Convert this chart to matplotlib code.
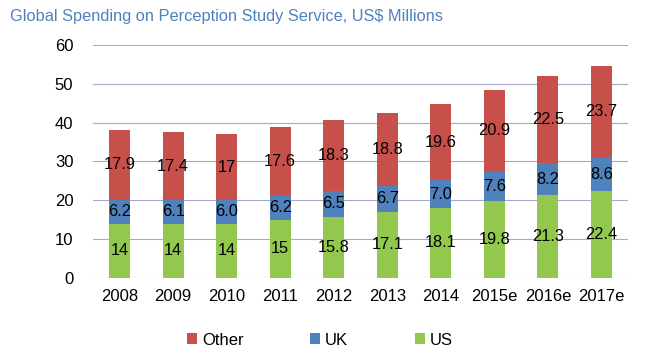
import matplotlib
matplotlib.use("Agg")
import matplotlib.pyplot as plt
import numpy as np

years = ["2008", "2009", "2010", "2011", "2012", "2013", "2014", "2015e", "2016e", "2017e"]
us = [14, 14, 14, 15, 15.8, 17.1, 18.1, 19.8, 21.3, 22.4]
uk = [6.2, 6.1, 6.0, 6.2, 6.5, 6.7, 7.0, 7.6, 8.2, 8.6]
other = [17.9, 17.4, 17, 17.6, 18.3, 18.8, 19.6, 20.9, 22.5, 23.7]
us_labels = ["14", "14", "14", "15", "15.8", "17.1", "18.1", "19.8", "21.3", "22.4"]
uk_labels = ["6.2", "6.1", "6.0", "6.2", "6.5", "6.7", "7.0", "7.6", "8.2", "8.6"]
other_labels = ["17.9", "17.4", "17", "17.6", "18.3", "18.8", "19.6", "20.9", "22.5", "23.7"]
yticks = [0, 10, 20, 30, 40, 50, 60]

plt.rcParams['font.family'] = ['Liberation Sans', 'DejaVu Sans']

fig = plt.figure(figsize=(6.49, 3.58), dpi=100)
ax = fig.add_axes([0.143, 0.2235, 0.825, 0.651])

x = np.arange(len(years))
w = 0.39
c_us, c_uk, c_ot = "#92C84E", "#4F81BD", "#C8504B"
us_a = np.array(us); uk_a = np.array(uk); ot_a = np.array(other)
b1 = ax.bar(x, us_a, w, color=c_us, label="US", zorder=3)
b2 = ax.bar(x, uk_a, w, bottom=us_a, color=c_uk, label="UK", zorder=3)
b3 = ax.bar(x, ot_a, w, bottom=us_a + uk_a, color=c_ot, label="Other", zorder=3)

fs = 11.8
for i in range(len(years)):
    ax.text(x[i], us_a[i] / 2, us_labels[i], ha="center", va="center", fontsize=fs, zorder=4)
    ax.text(x[i], us_a[i] + uk_a[i] / 2, uk_labels[i], ha="center", va="center", fontsize=fs, zorder=4)
    ax.text(x[i], us_a[i] + uk_a[i] + ot_a[i] / 2, other_labels[i], ha="center", va="center", fontsize=fs, zorder=4)

ax.set_ylim(0, 60)
ax.set_xlim(-0.5, len(years) - 0.5)
ax.set_yticks(yticks)
ax.set_yticklabels([str(v) for v in yticks], fontsize=12)
ax.set_xticks(x)
ax.set_xticklabels(years, fontsize=12)
ax.tick_params(axis="both", length=0)
ax.tick_params(axis="y", pad=14)
ax.tick_params(axis="x", pad=8)
for s in ax.spines.values():
    s.set_visible(False)
ax.yaxis.grid(True, color="#A8A8C8", linewidth=0.8, zorder=0)
ax.set_axisbelow(True)

fig.text(0.015, 0.955, "Global Spending on Perception Study Service, US$ Millions",
         fontsize=11.8, color="#4F81BD", ha="left", va="center")

handles = [b3, b2, b1]
leg = fig.legend(handles, ["Other", "UK", "US"], loc="center", bbox_to_anchor=(0.493, 0.05),
                 ncol=3, frameon=False, fontsize=12, handlelength=0.6, handleheight=0.6,
                 handletextpad=0.3, columnspacing=4.0)

fig.savefig("out.png", dpi=100)
